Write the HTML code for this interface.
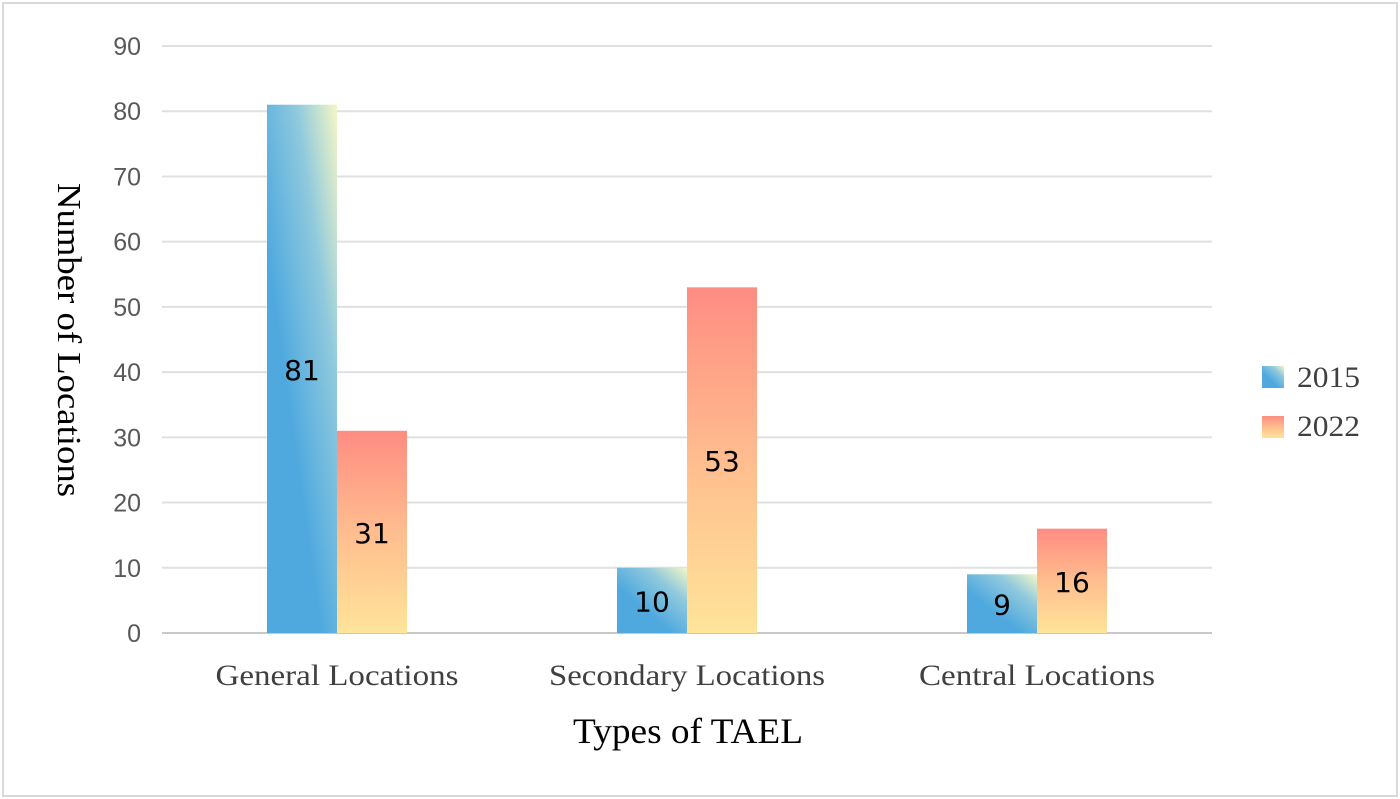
<!DOCTYPE html>
<html><head><meta charset="utf-8"><style>
html,body{margin:0;padding:0;background:#fff;}
svg{display:block;}
</style></head><body>
<svg id="chart" width="1400" height="799" xmlns="http://www.w3.org/2000/svg">
<defs>
<linearGradient id="gBlue" x1="0.4" y1="0.65" x2="1" y2="0">
<stop offset="0" stop-color="#4FA9DE"/><stop offset="0.55" stop-color="#8FC9DD"/><stop offset="1" stop-color="#F4F7C6"/>
</linearGradient>
<linearGradient id="gRed" x1="0" y1="0" x2="0" y2="1">
<stop offset="0" stop-color="#FF8C82"/><stop offset="0.5" stop-color="#FFBD8E"/><stop offset="1" stop-color="#FFE49A"/>
</linearGradient>
</defs>
<rect x="3" y="3" width="1394" height="793" fill="#fff" stroke="#d9d9d9" stroke-width="2"/>
<g id="grid"></g><g id="bars"></g><g id="labels"></g>
<text x="0" y="0" transform="translate(58,340) rotate(90)" text-anchor="middle" textLength="314" lengthAdjust="spacingAndGlyphs" font-family="Liberation Serif, serif" font-size="34" fill="#000">Number of Locations</text>
<text x="688" y="743" text-anchor="middle" textLength="230" lengthAdjust="spacingAndGlyphs" font-family="Liberation Serif, serif" font-size="36" fill="#000">Types of TAEL</text>
<rect x="1262" y="366" width="22" height="22" fill="url(#gBlue)"/>
<text x="1297" y="387" textLength="63" lengthAdjust="spacingAndGlyphs" font-family="Liberation Serif, serif" font-size="30" fill="#404040">2015</text>
<rect x="1262" y="416" width="22" height="22" fill="url(#gRed)"/>
<text x="1297" y="436" textLength="63" lengthAdjust="spacingAndGlyphs" font-family="Liberation Serif, serif" font-size="30" fill="#404040">2022</text>
</svg>
<script>
const categories = ["General Locations","Secondary Locations","Central Locations"];
const values2015 = [81,10,9];
const values2022 = [31,53,16];
const yTicks = [0,10,20,30,40,50,60,70,80,90];
const NS="http://www.w3.org/2000/svg";
const x0=162,x1=1212,y0=633,yTop=46,yMax=90;
const yS=v=>y0-(v/yMax)*(y0-yTop);
const bw=(x1-x0)/categories.length;
const catLen=[243,276,236];
function mk(tag,attrs,parent,txt){const e=document.createElementNS(NS,tag);for(const k in attrs)e.setAttribute(k,attrs[k]);if(txt!==undefined)e.textContent=txt;parent.appendChild(e);return e;}
const grid=document.getElementById('grid'),bars=document.getElementById('bars'),labels=document.getElementById('labels');
yTicks.forEach(t=>{
  const l=mk('line',{x1:x0,x2:x1,y1:yS(t),y2:yS(t),stroke:t===0?'#c8c8c8':'#e0e0e0','stroke-width':2},grid);
  
  
  const tx=mk('text',{x:141,y:yS(t)+9,'text-anchor':'end','font-family':'Liberation Sans, sans-serif','font-size':25,fill:'#595959'},labels,String(t));
  
  
});
categories.forEach((c,i)=>{
  const cx=x0+bw*(i+0.5);
  const w=70;
  [[values2015[i],cx-w,'url(#gBlue)','2015'],[values2022[i],cx,'url(#gRed)','2022']].forEach(([v,x,f,s])=>{
    const r=mk('rect',{x:x,y:yS(v),width:w,height:y0-yS(v),fill:f},bars);
    
    
    const t=mk('text',{x:x+w/2,y:(yS(v)+y0)/2+11,'text-anchor':'middle','font-family':'DejaVu Sans, Liberation Sans, sans-serif','font-size':28,fill:'#000'},labels,String(v));
    
    
  });
  const cl=mk('text',{x:cx,y:685,'text-anchor':'middle',textLength:catLen[i],lengthAdjust:'spacingAndGlyphs','font-family':'Liberation Serif, serif','font-size':30,fill:'#404040'},labels,c);
  
  
});
</script>
</body></html>
